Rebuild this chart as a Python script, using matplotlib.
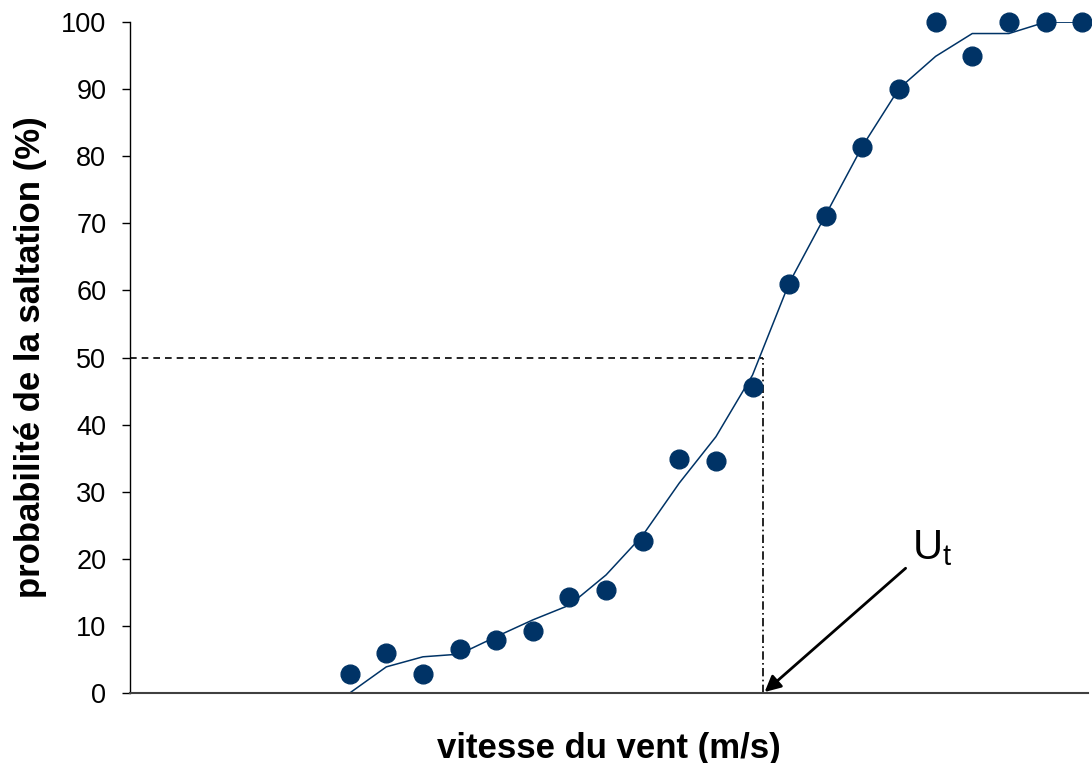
import matplotlib
matplotlib.use("Agg")
import matplotlib.pyplot as plt

plt.rcParams['font.family'] = ['Liberation Sans', 'DejaVu Sans']

# wind speed index (arbitrary units, no tick labels in the original)
speed = [6, 7, 8, 9, 10, 11, 12, 13, 14, 15, 16, 17, 18, 19, 20, 21, 22, 23, 24, 25, 26]
observed = [2.8, 6.0, 2.8, 6.6, 7.9, 9.2, 14.3, 15.4, 22.7, 34.9, 34.6, 45.6,
            61.0, 71.1, 81.4, 90.0, 100, 94.9, 100, 100, 100]
fitted = [0.0, 3.9, 5.4, 5.8, 8.4, 10.9, 13.1, 17.6, 23.5, 31.3, 38.2, 47.4,
          61.1, 71.3, 81.5, 90.1, 94.9, 98.3, 98.3, 100, 100]
u_t = 17.28
yticks = [0, 10, 20, 30, 40, 50, 60, 70, 80, 90, 100]

navy = '#003366'
fig = plt.figure(figsize=(10.92, 7.63), dpi=100)
ax = fig.add_axes([0.119, 0.0917, 0.877, 0.8793])

ax.plot(speed, fitted, color=navy, lw=1.1, zorder=2)
ax.plot(speed, observed, 'o', color=navy, ms=13.5, zorder=3, clip_on=False)

ax.plot([0, u_t], [50, 50], color='black', lw=1.2, ls=(0, (4, 3)), zorder=1)
ax.plot([u_t, u_t], [0, 50], color='black', lw=1.2, ls=(0, (5, 2, 1, 2)), zorder=1)

ax.annotate('', xy=(u_t + 0.05, 0.15), xytext=(21.18, 18.6),
            arrowprops=dict(arrowstyle='-|>', color='black', lw=2.0, mutation_scale=24,
                            shrinkA=0, shrinkB=0))
ax.text(21.35, 18.6, r'U$_\mathregular{t}$', fontsize=30, ha='left', va='bottom')

ax.set_xlim(0, 26.15)
ax.set_ylim(0, 100)
ax.set_yticks(yticks)
ax.set_xticks([])
ax.tick_params(axis='y', direction='out', length=6, width=1, labelsize=19.5, pad=11)
ax.spines['top'].set_visible(False)
ax.spines['right'].set_visible(False)
ax.spines['bottom'].set_color('#404040')
ax.spines['bottom'].set_linewidth(1.5)
ax.spines['left'].set_linewidth(1.0)

ax.set_xlabel('vitesse du vent (m/s)', fontsize=25, fontweight='bold', labelpad=28)
ax.set_ylabel('probabilité de la saltation (%)', fontsize=25, fontweight='bold', labelpad=10)

fig.savefig('out.png', dpi=100)
